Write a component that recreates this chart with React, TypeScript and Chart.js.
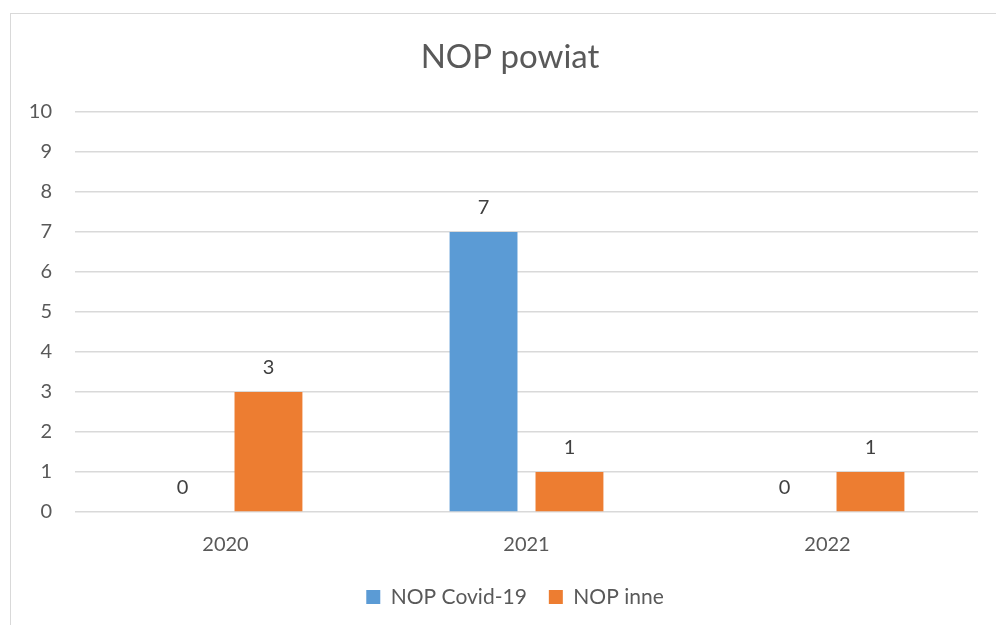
import React, { useEffect, useRef } from "react";
import { Chart, registerables } from "chart.js";

Chart.register(...registerables);

const categories = ["2020", "2021", "2022"];
const covidValues = [0, 7, 0];
const otherValues = [3, 1, 1];
const seriesNames = ["NOP Covid-19", "NOP inne"];
const chartTitle = "NOP powiat";

const FONT = "Lato, 'Open Sans', sans-serif";

const valueLabels = {
  id: "valueLabels",
  afterDatasetsDraw(chart: any) {
    const ctx = chart.ctx;
    ctx.save();
    ctx.font = `20px ${FONT}`;
    ctx.fillStyle = "#404040";
    ctx.textAlign = "center";
    ctx.textBaseline = "middle";
    chart.data.datasets.forEach((ds: any, i: number) => {
      const meta = chart.getDatasetMeta(i);
      meta.data.forEach((bar: any, j: number) => {
        ctx.fillText(String(ds.data[j]), bar.x, bar.y - 24);
      });
    });
    ctx.restore();
  },
};

// centre title and legend on the outer chart frame rather than the canvas
const shiftBoxes = {
  id: "shiftBoxes",
  afterLayout(chart: any) {
    if (chart.titleBlock) {
      chart.titleBlock.left += 21;
      chart.titleBlock.right += 21;
    }
    if (chart.legend) {
      chart.legend.left += 26;
      chart.legend.right += 26;
    }
  },
};

export default function App() {
  const ref = useRef<HTMLCanvasElement>(null);
  useEffect(() => {
    const chart = new Chart(ref.current!, {
      type: "bar",
      data: {
        labels: categories,
        datasets: [
          { label: seriesNames[0], data: covidValues, backgroundColor: "#5B9BD5" },
          { label: seriesNames[1], data: otherValues, backgroundColor: "#ED7D31" },
        ],
      },
      plugins: [valueLabels, shiftBoxes],
      options: {
        animation: false,
        responsive: false,
        maintainAspectRatio: false,
        layout: { padding: { left: 0, right: 18, top: 0, bottom: 7.5 } },
        datasets: { bar: { categoryPercentage: 0.571, barPercentage: 0.79 } },
        plugins: {
          title: {
            display: true,
            text: chartTitle,
            color: "#595959",
            font: { family: FONT, size: 33, weight: "normal" },
            padding: { top: 38, bottom: 34.4 },
          },
          legend: {
            position: "bottom",
            labels: {
              color: "#595959",
              font: { family: FONT, size: 21 },
              boxWidth: 14,
              boxHeight: 14,
              padding: 22,
            },
          },
          tooltip: { enabled: false },
        },
        scales: {
          x: {
            grid: { display: false },
            border: { display: false },
            ticks: { color: "#595959", font: { family: FONT, size: 20 }, padding: 13 },
            afterFit(scale: any) {
              scale.height = 52.5;
            },
          },
          y: {
            min: 0,
            max: 10,
            ticks: { stepSize: 1, color: "#595959", font: { family: FONT, size: 20 }, padding: 23 },
            grid: { color: "#d9d9d9", lineWidth: 1.5, drawTicks: false },
            border: { display: false },
            afterFit(scale: any) {
              scale.width = 75;
            },
          },
        },
      },
    });
    return () => chart.destroy();
  }, []);
  return (
    <div style={{ position: "fixed", left: 0, top: 0, width: 996, height: 625, background: "#fff", overflow: "hidden" }}>
      <div
        style={{
          position: "absolute",
          left: 10,
          top: 13,
          width: 1000,
          height: 700,
          border: "1.5px solid #d9d9d9",
        }}
      />
      <canvas ref={ref} width={996} height={625} style={{ position: "absolute", left: 0, top: 0 }} />
    </div>
  );
}
